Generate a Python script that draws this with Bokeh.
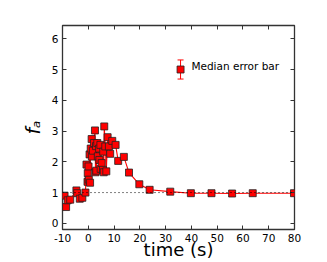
from bokeh.plotting import figure
from bokeh.models import Span, LinearAxis, FixedTicker, Range1d
from bokeh.embed import file_html
from bokeh.resources import INLINE

# Data (time in s, f_a)
time_s = [-9.2, -8.6, -8.0, -7.0, -4.6, -4.3, -3.3, -2.3, -1.1, -0.7, -0.3, -0.2,
          0.1, 0.2, 0.5, 0.7, 0.95, 1.3, 1.4, 1.8, 2.2, 2.6, 2.8, 3.0, 3.1, 3.5,
          3.7, 4.2, 4.3, 4.7, 4.8, 5.2, 5.7, 5.8, 6.0, 6.2, 6.6, 7.0, 7.5, 8.0,
          8.5, 9.3, 10.6, 11.6, 13.8, 15.8, 19.8, 23.8, 31.8, 39.8, 47.8, 55.8,
          63.8, 79.8]
f_a = [0.90, 0.53, 0.75, 0.77, 1.07, 0.98, 0.80, 0.83, 1.00, 1.91, 1.35, 1.63,
       1.85, 1.42, 2.24, 1.32, 2.43, 2.74, 2.17, 2.36, 2.61, 3.02, 1.66, 2.51, 1.71, 2.61,
       2.18, 2.43, 2.06, 2.55, 1.77, 1.96, 1.74, 2.33, 1.66, 3.15, 2.50, 1.69, 2.80, 2.50,
       2.26, 2.68, 2.55, 2.03, 2.16, 1.65, 1.27, 1.09, 1.03, 0.98, 0.98, 0.97,
       0.98, 0.98]
reference_level = 1.0
x_ticks = [-10, 0, 10, 20, 30, 40, 50, 60, 70, 80]
y_ticks = [0, 1, 2, 3, 4, 5, 6]

# legend sample (median error bar)
legend_x = [35.8]
legend_y = [5.0]
median_err = 0.31
legend_label = "Median error bar"

p = figure(width=327, height=262, output_backend="svg", toolbar_location=None,
           x_range=Range1d(-10, 80), y_range=Range1d(-0.2, 6.43),
           min_border_left=62, min_border_right=33, min_border_top=25,
           min_border_bottom=32)
p.grid.visible = False
p.background_fill_color = "white"
p.border_fill_color = "white"
p.outline_line_color = "#333333"
p.outline_line_width = 1.3

font = "DejaVu Sans"
for ax in [p.xaxis[0], p.yaxis[0]]:
    ax.major_tick_in = 4
    ax.major_tick_out = 0
    ax.minor_tick_in = 0
    ax.minor_tick_out = 0
    ax.axis_line_color = None
    ax.major_label_text_font = font
    ax.major_label_text_font_size = "10.5px"
    ax.major_label_text_color = "black"
    ax.major_tick_line_color = "#333333"
    ax.major_label_standoff = 4
    ax.axis_label_text_color = "black"

p.xaxis[0].ticker = FixedTicker(ticks=x_ticks)
p.yaxis[0].ticker = FixedTicker(ticks=y_ticks)
p.xaxis[0].major_label_overrides = {-10: "-10"}
p.xaxis[0].axis_label = "time (s)"
p.xaxis[0].axis_label_text_font = font
p.xaxis[0].axis_label_text_font_size = "18px"
p.xaxis[0].axis_label_text_font_style = "normal"
p.xaxis[0].axis_label_standoff = -6
p.yaxis[0].axis_label = "f\u2090"
p.yaxis[0].axis_label_text_font = font
p.yaxis[0].axis_label_text_font_size = "19px"
p.yaxis[0].axis_label_text_font_style = "italic"
p.yaxis[0].axis_label_standoff = 5

# mirrored inward ticks on right and top
for side, tk in [("right", y_ticks), ("above", x_ticks)]:
    a = LinearAxis(ticker=FixedTicker(ticks=tk))
    a.major_tick_in = 4
    a.major_tick_out = 0
    a.minor_tick_in = 0
    a.minor_tick_out = 0
    a.axis_line_color = None
    a.major_label_text_font_size = "0px"
    a.major_label_text_color = None
    a.major_label_standoff = 0
    a.major_tick_line_color = "#333333"
    p.add_layout(a, side)

p.add_layout(Span(location=reference_level, dimension="width", line_color="black",
                  line_dash="1 3", line_width=1))

p.line(time_s, f_a, line_color="red", line_width=1.1)
p.scatter(time_s, f_a, marker="square", size=7, fill_color="red",
          line_color="#222222", line_width=0.8)

# legend entry with error bar
p.segment(x0=legend_x, y0=[legend_y[0] - median_err], x1=legend_x,
          y1=[legend_y[0] + median_err], line_color="red", line_width=1)
p.scatter(legend_x, [legend_y[0] - median_err], marker="dash", size=6,
          line_color="red", line_width=1)
p.scatter(legend_x, [legend_y[0] + median_err], marker="dash", size=6,
          line_color="red", line_width=1)
p.scatter(legend_x, legend_y, marker="square", size=7, fill_color="red",
          line_color="#222222", line_width=0.8)
p.text(x=[legend_x[0] + 4.2], y=[legend_y[0] + 0.1], text=[legend_label],
       text_font_size="10.5px", text_baseline="middle", text_align="left",
       text_color="black", text_font={"value": font})

open("out.html", "w").write(file_html(p, INLINE))
